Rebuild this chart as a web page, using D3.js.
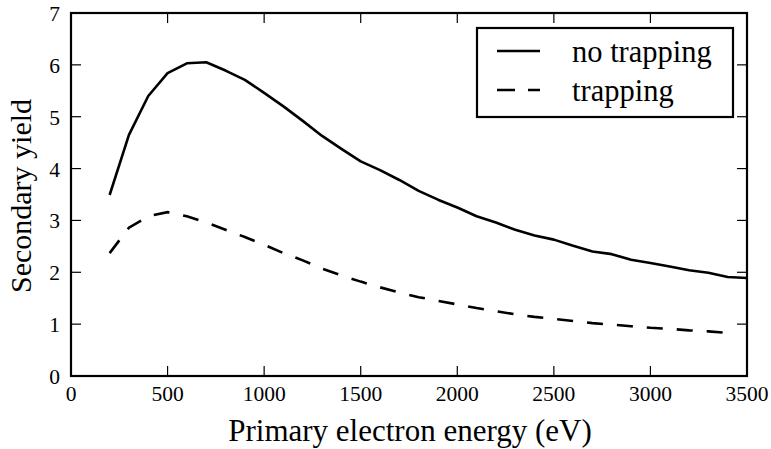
<!DOCTYPE html>
<html><head><meta charset="utf-8">
<script src="https://cdn.jsdelivr.net/npm/d3@7"></script>
<style>body{margin:0;background:#fff}svg{display:block}</style>
</head><body><svg id="c" width="771" height="449"></svg>
<script>
const energyNoTrap = [200,300,400,500,600,700,800,900,1000,1100,1200,1300,1400,1500,1600,1700,1800,1900,2000,2100,2200,2300,2400,2500,2600,2700,2800,2900,3000,3100,3200,3300,3400,3500];
const yieldNoTrap = [3.49,4.65,5.40,5.84,6.03,6.05,5.89,5.71,5.46,5.20,4.92,4.63,4.38,4.14,3.97,3.78,3.57,3.40,3.25,3.08,2.96,2.82,2.71,2.63,2.51,2.40,2.35,2.24,2.18,2.11,2.04,1.99,1.91,1.89];
const energyTrap = [200,300,400,500,600,700,800,900,1000,1100,1200,1300,1400,1500,1600,1700,1800,1900,2000,2100,2200,2300,2400,2500,2600,2700,2800,2900,3000,3100,3200,3300,3400];
const yieldTrap = [2.37,2.86,3.08,3.16,3.08,2.96,2.82,2.68,2.53,2.37,2.23,2.07,1.94,1.82,1.71,1.61,1.52,1.45,1.38,1.31,1.25,1.19,1.14,1.10,1.06,1.02,0.99,0.96,0.93,0.91,0.88,0.86,0.83];
const xTicks = [0,500,1000,1500,2000,2500,3000,3500];
const yTicks = [0,1,2,3,4,5,6,7];
const seriesNames = ["no trapping","trapping"];

const FONT = "'Liberation Serif','DejaVu Serif','Noto Serif','Times New Roman',serif";
const svg = d3.select("#c");
const L=71,R=747,T=13,B=376;
const x = d3.scaleLinear().domain([0,3500]).range([L,R]);
const y = d3.scaleLinear().domain([0,7]).range([B,T]);

const tl=10;
const g = svg.append("g").attr("stroke","#000").attr("stroke-width",1.2);
xTicks.forEach(v=>{
  g.append("line").attr("x1",x(v)).attr("x2",x(v)).attr("y1",B).attr("y2",B-tl);
  g.append("line").attr("x1",x(v)).attr("x2",x(v)).attr("y1",T).attr("y2",T+tl);
});
yTicks.forEach(v=>{
  g.append("line").attr("x1",L).attr("x2",L+tl).attr("y1",y(v)).attr("y2",y(v));
  g.append("line").attr("x1",R).attr("x2",R-tl).attr("y1",y(v)).attr("y2",y(v));
});
svg.append("g").selectAll("text").data(xTicks).join("text")
  .attr("font-family",FONT).attr("x",d=>x(d)).attr("y",401).attr("text-anchor","middle").attr("font-size",21.5).text(d=>d);
svg.append("g").selectAll("text").data(yTicks).join("text")
  .attr("font-family",FONT).attr("x",L-11).attr("y",d=>y(d)+8).attr("text-anchor","end").attr("font-size",21.5).text(d=>d);

const line = d3.line().x(d=>x(d[0])).y(d=>y(d[1]));
svg.append("path").datum(d3.zip(energyNoTrap,yieldNoTrap)).attr("d",line)
  .attr("fill","none").attr("stroke","#000").attr("stroke-width",2.6).attr("stroke-linejoin","round");
svg.append("path").datum(d3.zip(energyTrap,yieldTrap)).attr("d",line)
  .attr("fill","none").attr("stroke","#000").attr("stroke-width",2.6).attr("stroke-dasharray","16,14");

svg.append("rect").attr("x",L).attr("y",T).attr("width",R-L).attr("height",B-T)
  .attr("fill","none").attr("stroke","#000").attr("stroke-width",2.2);

const lg = svg.append("g");
lg.append("rect").attr("x",477).attr("y",28).attr("width",256).attr("height",89)
  .attr("fill","#fff").attr("stroke","#000").attr("stroke-width",2.2);
[0,1].forEach(i=>{
  const yy = 51 + i*39;
  lg.append("line").attr("x1",497).attr("x2",540).attr("y1",yy).attr("y2",yy)
    .attr("stroke","#000").attr("stroke-width",2.6).attr("stroke-dasharray", i?"18,13":null);
  lg.append("text").attr("font-family",FONT).attr("x",572).attr("y",yy+11).attr("font-size",30.5).text(seriesNames[i]);
});

svg.append("text").attr("font-family",FONT).attr("x",410).attr("y",441).attr("text-anchor","middle").attr("font-size",31).text("Primary electron energy (eV)");
svg.append("text").attr("font-family",FONT).attr("transform","translate(31,196) rotate(-90)").attr("text-anchor","middle").attr("font-size",30).text("Secondary yield");
</script></body></html>
